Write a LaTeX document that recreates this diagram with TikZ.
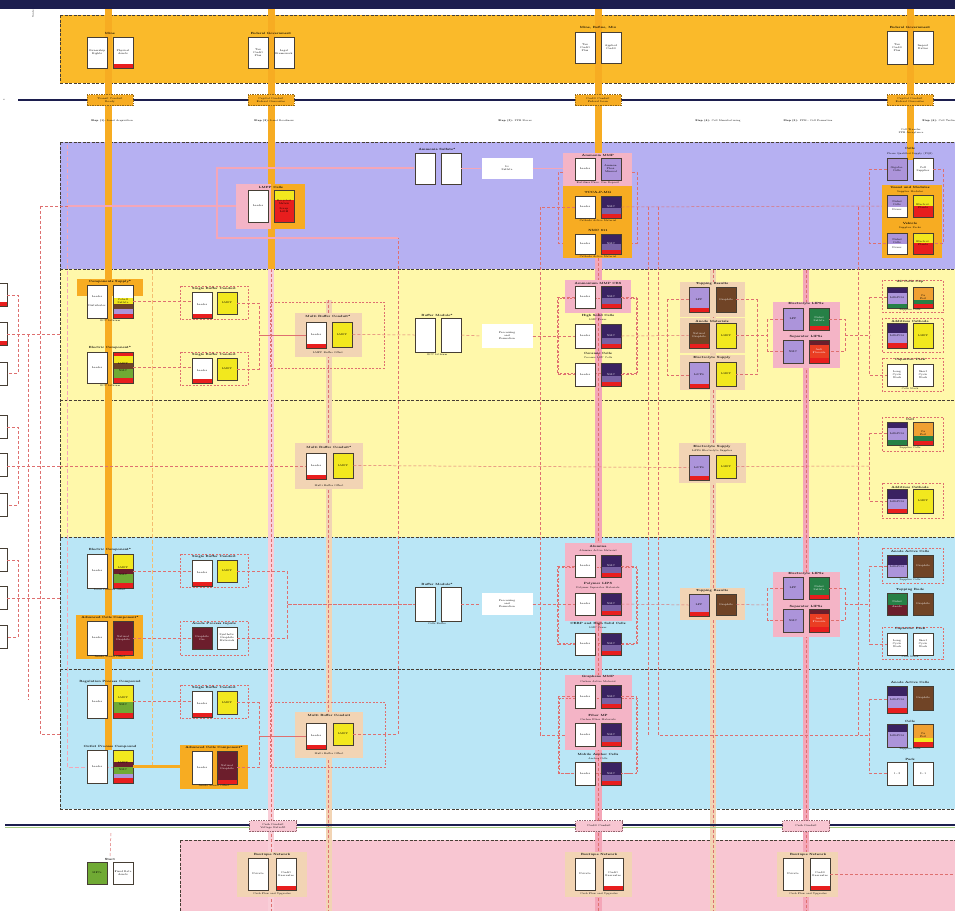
\documentclass[tikz,border=0pt]{standalone}
\usepackage{tikz}
\usetikzlibrary{positioning}

\definecolor{navyc}{RGB}{28,30,78}
\definecolor{bandor}{RGB}{250,186,42}
\definecolor{stripor}{RGB}{247,172,34}
\definecolor{bandpu}{RGB}{182,176,242}
\definecolor{bandye}{RGB}{255,248,170}
\definecolor{bandbl}{RGB}{186,230,246}
\definecolor{bandpk}{RGB}{248,198,210}
\definecolor{stripk}{RGB}{244,166,184}
\definecolor{tanbg}{RGB}{242,212,180}
\definecolor{pinkbg}{RGB}{244,180,198}
\definecolor{boxye}{RGB}{242,232,30}
\definecolor{boxbr}{RGB}{112,68,38}
\definecolor{boxma}{RGB}{108,30,44}
\definecolor{boxpu}{RGB}{172,148,218}
\definecolor{boxnv}{RGB}{58,34,98}
\definecolor{boxgr}{RGB}{38,128,70}
\definecolor{boxlm}{RGB}{112,170,52}
\definecolor{boxrd}{RGB}{232,30,30}
\definecolor{boxor}{RGB}{240,160,50}
\definecolor{linkc}{RGB}{222,112,112}
\definecolor{edgec}{RGB}{70,62,52}

% one box of a unit: name, left x, top y, height, options, text
\newcommand{\ubx}[6]{\node[ubox, minimum height=#4, #5] (#1) at (#2+10,#3+#4/2) {#6};}
% coloured layers under a box: left x, top y, list colour/from/to
\newcommand{\boxlayers}[3]{\foreach \lc/\la/\lb in {#3} {\fill[\lc] (#1,#2+\la) rectangle (#1+20,#2+\lb);}}

\begin{document}
\begin{tikzpicture}[x=1pt, y=-1pt,
  ubox/.style={draw=edgec, line width=0.8pt, fill=white, minimum width=20, inner sep=0.4pt,
    text width=18, align=center, font=\fontsize{2.6}{3}\selectfont},
  redfoot/.style={path picture={\fill[boxrd] ([yshift=4pt]path picture bounding box.south west)
    rectangle (path picture bounding box.south east);}},
  nbox/.style={fill=boxnv, text=white, path picture={
    \fill[boxpu!55!boxnv] ([yshift=10pt]path picture bounding box.south west) rectangle ([yshift=4pt]path picture bounding box.south east);
    \fill[boxrd] ([yshift=4pt]path picture bounding box.south west) rectangle (path picture bounding box.south east);}},
  ttl/.style={font=\fontsize{3}{3.4}\selectfont\bfseries, inner sep=0.2pt, align=center},
  sub/.style={font=\fontsize{2.5}{2.9}\selectfont, inner sep=0.2pt, align=center},
  bandedge/.style={draw=edgec, dash pattern=on 3pt off 1.5pt, line width=0.6pt},
  link/.style={draw=linkc, dash pattern=on 3pt off 2pt, line width=0.5pt},
  pkline/.style={draw=stripk, line width=1.4pt},
  pkdash/.style={draw=stripk, dash pattern=on 4pt off 2pt, line width=0.9pt},
  tandash/.style={draw=boxor!70, dash pattern=on 4pt off 2pt, line width=0.7pt},
  orlink/.style={draw=stripor, line width=3pt},
  grp/.style={draw=linkc, dash pattern=on 2pt off 1.5pt, line width=0.45pt},
  olab/.style={draw=stripor!60!black, dash pattern=on 1.5pt off 1pt, line width=0.4pt, fill=stripor,
    minimum width=46, minimum height=11, inner sep=0.2pt, align=center, font=\fontsize{2.6}{3}\selectfont},
  plab/.style={olab, draw=stripk!60!black, fill=bandpk, minimum width=47},
  lbox/.style={fill=white, minimum width=51, inner sep=0.3pt, align=center, font=\fontsize{2.6}{3}\selectfont}]
  \useasboundingbox (0,0) rectangle (955,911);

  % ---------- bands ----------
  \fill[white] (0,0) rectangle (955,911);
  \fill[bandor] (60,15) rectangle (955,83);
  \fill[bandpu] (60,142) rectangle (955,269);
  \fill[bandye] (60,269) rectangle (955,537);
  \fill[bandbl] (60,537) rectangle (955,809);
  \fill[bandpk] (180,840) rectangle (955,911);
  \foreach \y in {15,83,142,269,400,537,669,809} { \draw[bandedge] (60,\y) -- (955,\y); }
  \draw[bandedge] (60,15) -- (60,83);
  \draw[bandedge] (60,142) -- (60,809);
  \draw[bandedge] (180,840) -- (955,840);
  \draw[bandedge] (180,840) -- (180,911);

  % ---------- stripes ----------
  \fill[stripor] (104.5,0) rectangle (111.5,750);
  \fill[stripor] (267.5,0) rectangle (274.5,269);
  \fill[stripor] (594.5,0) rectangle (601.5,160);
  \fill[stripor] (906.5,0) rectangle (913.5,160);
  \fill[stripk!55] (268,269) rectangle (274,911);
  \fill[stripk] (594.5,258) rectangle (601.5,911);
  \fill[stripk] (803,270) rectangle (809,911);
  \fill[tanbg] (325.5,300) rectangle (331.5,911);
  \fill[tanbg] (710,270) rectangle (716,911);
  \foreach \x/\a in {271/269, 328.5/300, 713/270, 806/270, 598/258} { \draw[link] (\x,\a) -- (\x,911); }
  \fill[navyc] (0,0) rectangle (955,9);
  \draw[navyc, line width=1.6pt] (18,100) -- (955,100);
  \draw[navyc, line width=1.6pt] (5,825) -- (955,825);
  \draw[boxlm!60, line width=0.5pt] (5,827.5) -- (955,827.5);
  \node[sub] (sm1) at (4,100) {s};
  \node[sub, rotate=90] (sm2) at (33,14) {Scale};

  % ---------- left margin ----------
  \foreach \y in {283,322} { \fill[boxrd] (-14,\y+19) rectangle (7,\y+23); \draw[edgec, line width=0.8pt] (-14,\y) rectangle (7,\y+23); }
  \foreach \y in {362,415,453,493,548,586,625} { \draw[edgec, line width=0.8pt] (-14,\y) rectangle (7,\y+23); }
  \foreach \a/\b/\c in {295/334/373, 427/466/505, 560/598/637} {
    \draw[link] (7,\a) -| (18,\c) -- (7,\c);
    \draw[link] (7,\b) -- (60,\b);
  }
  \draw[link] (40,206) -- (40,734) -- (60,734);
  \draw[link] (28,334) -- (28,700);
  \draw[pkdash] (67,145) -- (67,767) -- (152,767);
  \draw[tandash] (152,270) -- (152,767);
  \draw[link] (648,207) -- (648,735);
  \draw[link] (658,207) -- (658,735) -- (870,735);
  \draw[link] (858,207) -- (858,735);

  % ---------- top band : supply ----------
  \node[ttl] (t1t) at (110,33) {Mine};
  \ubx{t1a}{87}{37}{31}{}{Ownership\\Rights}
  \ubx{t1b}{113}{37}{31}{redfoot}{Physical\\Assets}
  \node[ttl] (t2t) at (271,33) {Federal Government};
  \ubx{t2a}{248}{37}{31}{}{Tax\\Credit\\Plus}
  \ubx{t2b}{274}{37}{31}{}{Legal\\Framework}
  \node[ttl] (t3t) at (598,28) {Mine, Refine, Mix};
  \ubx{t3a}{575}{32}{31}{}{Tax\\Credit\\Plus}
  \ubx{t3b}{601}{32}{31}{}{Applied\\Credit}
  \node[ttl] (t4t) at (910,27) {Federal Government};
  \ubx{t4a}{887}{31}{33}{}{Tax\\Credit\\Plus}
  \ubx{t4b}{913}{31}{33}{}{Import\\Duties}

  \node[olab] (ol1) at (110,100) {Transit Conduit\\Ready};
  \node[olab] (ol2) at (271,100) {Capital Conduit\\Federal Guarantee};
  \node[olab] (ol3) at (598,100) {Credit Conduit\\Federal Loan};
  \node[olab] (ol4) at (910,100) {Capital Conduit\\Federal Guarantee};

  \node[sub] (st1) at (112,121) {\textbf{Step (1):} Land Acquisition};
  \node[sub] (st2) at (274,121) {\textbf{Step (2):} Land Readiness};
  \node[sub] (st3) at (515,121) {\textbf{Step (3):} PPE Stores};
  \node[sub] (st4) at (718,121) {\textbf{Step (4):} Cell Manufacturing};
  \node[sub] (st5) at (808,121) {\textbf{Step (5):} PPE - Cell Formation};
  \node[sub, anchor=west] (st6) at (922,121) {\textbf{Step (6):} Cell Testing};
  \node[sub] (st7) at (911,131) {Cell Transfer\\PPE Acceptance};

  % ---------- purple band ----------
  \draw[link] (40,206) -- (68,206);
  \draw[pkline] (68,206) -- (248,206);
  \draw[pkline] (414,168) -- (217,168) |- (398,238);
  \fill[pinkbg] (236,184) rectangle (271,229);
  \fill[stripor] (271,184) rectangle (305,229);
  \node[ttl] (pu1t) at (271,187) {LMFP Cells};
  \ubx{pu1a}{248}{190}{32}{}{Leader}
  \boxlayers{274}{190}{boxye/0/10, boxrd/10/32}
  \ubx{pu1b}{274}{190}{32}{fill=none}{Recycled\\Metals\\[2pt]Scrap\\LiOH}

  \node[ttl] (w1t) at (437,149) {Ammonia Sulfate*};
  \ubx{w1a}{415}{153}{31}{}{}
  \ubx{w1b}{441}{153}{31}{}{}
  \node[lbox, minimum height=21] (lab1) at (507,168.5) {Li\\Sulfate};
  \draw[pkline] (w1b.east) -- (lab1.west);
  \draw[pkline] (lab1.east) -- (575,168.5);

  \fill[stripor] (563,153) rectangle (632,258);
  \fill[pinkbg] (563,153) rectangle (632,186);
  \node[ttl] (c1t) at (598,155) {Ammonia MMP};
  \ubx{c1a}{575}{158}{22}{}{Leader}
  \ubx{c1b}{601}{158}{22}{fill=boxpu}{Ammon.\\Phos.\\Mineral}
  \node[sub] (c1s) at (598,183) {Fertilizer Phos. Ore Deposit};
  \node[ttl] (c2t) at (598,192) {TCCA-P-MG};
  \ubx{c2a}{575}{196}{22}{}{Leader}
  \ubx{c2b}{601}{196}{22}{nbox}{NMC}
  \node[sub] (c2s) at (598,221) {Cathode Active Material};
  \node[ttl] (c3t) at (598,230) {NMC 811};
  \ubx{c3a}{575}{234}{20}{}{Leader}
  \ubx{c3b}{601}{234}{20}{nbox}{NMC}
  \node[sub] (c3s) at (598,257) {Cathode Active Material};
  \draw[link] (c2a.west) -| (540,735) -- (575,735);
  \draw[link] (c2b.east) -- (887,206);
  \draw[link] (563,172) -- (558,172) |- (563,243);
  \draw[link] (632,172) -- (637,172) |- (632,243);

  \node[ttl] (r1t) at (910,148) {Cells};
  \node[sub] (r1s) at (910,154) {Phase Qualified Supply (PQS)};
  \ubx{r1a}{887}{158}{22}{fill=boxpu}{Gigafac.\\Cells}
  \ubx{r1b}{913}{158}{22}{}{Cell\\Supplier}
  \fill[stripor] (882,185) rectangle (942,258);
  \node[ttl] (r2t) at (910,187) {Vessel and Modules};
  \node[sub] (r2s) at (910,192) {Supplier Modules};
  \boxlayers{887}{195}{boxpu/0/12, white/12/22}
  \ubx{r2a}{887}{195}{22}{fill=none}{Nickel\\Cells\\[2pt]Power}
  \boxlayers{913}{195}{boxye/0/11, boxrd/11/22}
  \ubx{r2b}{913}{195}{22}{fill=none}{Electrol.\\Plants}
  \node[ttl] (r3t) at (910,223) {Vehicle};
  \node[sub] (r3s) at (910,228) {Supplier Packs};
  \boxlayers{887}{233}{boxpu/0/11, white/11/21}
  \ubx{r3a}{887}{233}{21}{fill=none}{Nickel\\Cells\\[2pt]Power}
  \boxlayers{913}{233}{boxye/0/10, boxrd/10/21}
  \ubx{r3b}{913}{233}{21}{fill=none}{Electrol.\\Plants}
  \draw[link] (r1a.west) -- ++(-17,0) |- (r3a.west);
  \draw[link] (r1b.east) -- ++(10,0) |- (r3b.east);

  % ---------- yellow band, upper ----------
  \fill[stripor] (77,279) rectangle (143,296);
  \node[ttl] (l1t) at (110,282) {Components Supply*};
  \ubx{l1a}{87}{285}{33}{}{Leader\\[6pt]Distributor}
  \boxlayers{113}{285}{white/0/13, boxye/13/19, boxbr/19/24, boxpu/24/29, boxrd/29/33}
  \ubx{l1b}{113}{285}{33}{fill=none}{Cobalt\\Sulfate}
  \node[sub] (l1s) at (110,321) {GCC Lithium};
  \node[ttl] (l2t) at (110,348) {Electric Component*};
  \ubx{l2a}{87}{352}{31}{}{Leader}
  \boxlayers{113}{352}{boxrd/0/4, boxye/4/11, boxbr/11/17, boxlm/17/26, boxrd/26/31}
  \ubx{l2b}{113}{352}{31}{fill=none}{LMFP\\[4pt]NMC}
  \node[sub] (l2s) at (110,386) {GCC Lithium};

  \draw[grp] (180,286) rectangle (248,319);
  \node[ttl] (s1t) at (214,289) {Single Buffer Conduit};
  \ubx{s1a}{192}{292}{26}{redfoot}{Leader}
  \ubx{s1b}{217}{292}{22}{fill=boxye}{LMFP}
  \draw[grp] (180,352) rectangle (248,385);
  \node[ttl] (s2t) at (214,355) {Single Buffer Conduit};
  \ubx{s2a}{192}{358}{25}{redfoot}{Leader}
  \ubx{s2b}{217}{358}{22}{fill=boxye}{LMFP}
  \draw[link] (l1b.east) -- (l1b.east -| s1a.west);
  \draw[link] (l2b.east) -- (l2b.east -| s2a.west);

  \draw[grp] (270,302) rectangle (384,368);
  \fill[tanbg] (295,313) rectangle (362,357);
  \node[ttl] (m1t) at (328,316) {Multi Buffer Conduit*};
  \ubx{m1a}{306}{322}{26}{redfoot}{Leader}
  \ubx{m1b}{332}{322}{25}{fill=boxye}{LMFP}
  \node[sub] (m1s) at (328,353) {LMFP Buffer Offset};
  \draw[link] (s1b.east) -- ++(22,0) |- (m1a.west);
  \draw[link] (s2b.east) -- ++(22,0) |- (m1a.west);

  \node[ttl] (w2t) at (437,315) {Buffer Module*};
  \ubx{w2a}{415}{318}{34}{}{}
  \ubx{w2b}{441}{318}{34}{}{}
  \node[sub] (w2s) at (437,355) {GCC Lithium};
  \node[lbox, minimum height=24] (lab2) at (507,336) {Processing\\and\\Formation};
  \draw[link] (m1b.east) -- (w2a.west);
  \draw[link] (w2b.east) -- (lab2.west);

  \fill[pinkbg] (565,280) rectangle (631,313);
  \draw[grp] (558,298) rectangle (637,373);
  \node[ttl] (c4t) at (598,283) {Ammonium MMP CBS};
  \ubx{c4a}{575}{286}{22}{}{Leader}
  \ubx{c4b}{601}{286}{22}{nbox}{NMC}
  \node[ttl] (c5t) at (598,316) {High Solid Cells};
  \node[sub] (c5s) at (598,320) {LMP Power};
  \ubx{c5a}{575}{324}{24}{}{Leader}
  \ubx{c5b}{601}{324}{24}{nbox}{NMC}
  \node[ttl] (c6t) at (598,353) {Ceramic Cells};
  \node[sub] (c6s) at (598,358) {Ceramic LFP Cells};
  \ubx{c6a}{575}{363}{23}{}{Leader}
  \ubx{c6b}{601}{363}{23}{nbox}{NMC}
  \draw[link] (lab2.east) -- (c5a.west);
  \draw[link] (c4a.west) -- ++(-17,0) |- (c6a.west);
  \draw[link] (c4b.east) -- ++(15,0) |- (c6b.east);

  \fill[tanbg] (680,282) rectangle (745,317);
  \node[ttl] (k1t) at (712,284) {Topping Results};
  \ubx{k1a}{689}{287}{25}{fill=boxpu, redfoot}{LFP}
  \ubx{k1b}{716}{287}{25}{fill=boxbr, text=white}{Graphite}
  \fill[tanbg] (680,318) rectangle (745,353);
  \node[ttl] (k2t) at (712,321) {Anode Materials};
  \ubx{k2a}{689}{323}{25}{fill=boxbr, text=white, redfoot}{Natural\\Graphite}
  \ubx{k2b}{716}{323}{25}{fill=boxye}{LMFP}
  \fill[tanbg] (680,355) rectangle (745,390);
  \node[ttl] (k3t) at (712,358) {Electrolyte Supply};
  \ubx{k3a}{689}{362}{26}{fill=boxpu, redfoot}{LiPF6}
  \ubx{k3b}{716}{362}{24}{fill=boxye}{LMFP}
  \draw[link] (c5b.east) -- (k2a.west);
  \draw[link] (k1a.west) -- ++(-21,0) |- (k3a.west);
  \draw[link] (k1b.east) -- ++(21,0) |- (k3b.east);

  \fill[pinkbg] (773,302) rectangle (840,368);
  \node[ttl] (p1t) at (806,304) {Electrolyte LIPSs};
  \ubx{p1a}{783}{308}{22}{fill=boxpu}{LFP}
  \ubx{p1b}{809}{308}{22}{fill=boxgr, text=white, redfoot}{Nickel\\Sulfate}
  \node[ttl] (p2t) at (806,337) {Separator LIPSs};
  \ubx{p2a}{783}{340}{23}{fill=boxpu}{NMC}
  \boxlayers{809}{340}{boxma/0/5, boxrd!75!boxor/5/18, boxrd/18/23}
  \ubx{p2b}{809}{340}{23}{fill=none, text=white}{Anti\\Fluoride}
  \coordinate (pj1) at (768,335.5);
  \coordinate (pj2) at (845,335.5);
  \draw[link] (k2b.east) -- (pj1);
  \draw[link] (p1a.west) -- ++(-15,0) |- (p2a.west);
  \draw[link] (p1b.east) -- ++(16,0) |- (p2b.east);
  \draw[link] (pj2) -- (870,335.5);

  \draw[grp] (882,280) rectangle (943,312);
  \node[ttl] (r4t) at (910,282) {All Cells Cap};
  \boxlayers{887}{287}{boxnv/0/6, boxpu/6/17, boxgr/17/21}
  \ubx{r4a}{887}{287}{21}{fill=none}{~\\LiFePO4}
  \boxlayers{913}{287}{boxor/0/13, boxgr/13/17, boxrd/17/21}
  \ubx{r4b}{913}{287}{21}{fill=none}{Cu\\Foil}
  \node[sub] (r4s) at (910,310) {Supplier Cells};
  \draw[grp] (882,318) rectangle (943,352);
  \node[ttl] (r5t) at (910,321) {Additives Cathode};
  \boxlayers{887}{323}{boxnv/0/10, boxpu/10/20, boxrd/20/25}
  \ubx{r5a}{887}{323}{25}{fill=none}{~\\LiFePO4}
  \ubx{r5b}{913}{323}{25}{fill=boxye}{LMFP}
  \draw[grp] (882,358) rectangle (943,391);
  \node[ttl] (r6t) at (910,360) {Capacitor Pack};
  \ubx{r6a}{887}{364}{22}{}{Long\\Cycle\\Stack}
  \ubx{r6b}{913}{364}{22}{}{Short\\Cycle\\Stack}
  \node[sub] (r6s) at (910,389) {Cells Stack};
  \draw[link] (r4a.west) -- ++(-17,0) |- (r6a.west);

  % ---------- yellow band, lower ----------
  \fill[tanbg] (295,443) rectangle (363,489);
  \node[ttl] (m2t) at (329,447) {Multi Buffer Conduit*};
  \ubx{m2a}{306}{453}{26}{redfoot}{Leader}
  \ubx{m2b}{333}{453}{25}{fill=boxye}{LMFP}
  \node[sub] (m2s) at (329,486) {Multi Buffer Offset};
  \draw[link] (60,466) -- (m2a.west);

  \fill[tanbg] (679,443) rectangle (746,483);
  \node[ttl] (k4t) at (712,447) {Electrolyte Supply};
  \node[sub] (k4s) at (712,451) {LiPF6 Electrolyte Supplier};
  \ubx{k4a}{689}{455}{25}{fill=boxpu, redfoot}{LiPF6}
  \ubx{k4b}{716}{455}{23}{fill=boxye}{LMFP}
  \draw[link] (m2b.east) -- (k4a.west);
  \draw[link] (k4b.east) -- (870,466);

  \draw[grp] (882,417) rectangle (943,451);
  \node[ttl] (r7t) at (910,419) {Cell};
  \boxlayers{887}{422}{boxnv/0/6, boxpu/6/18, boxgr/18/23}
  \ubx{r7a}{887}{422}{23}{fill=none}{~\\LiFePO4}
  \boxlayers{913}{422}{boxor/0/14, boxgr/14/19, boxrd/19/23}
  \ubx{r7b}{913}{422}{23}{fill=none}{Cu\\Foil}
  \node[sub] (r7s) at (910,448) {Supplier Cells};
  \draw[grp] (882,483) rectangle (943,518);
  \node[ttl] (r8t) at (910,487) {Additives Cathode};
  \boxlayers{887}{489}{boxnv/0/10, boxpu/10/20, boxrd/20/24}
  \ubx{r8a}{887}{489}{24}{fill=none}{~\\LiFePO4}
  \ubx{r8b}{913}{489}{24}{fill=boxye}{LMFP}
  \draw[link] (r7a.west) -- ++(-17,0) |- (r8a.west);

  % ---------- blue band, upper ----------
  \node[ttl] (l3t) at (110,550) {Electric Component*};
  \ubx{l3a}{87}{554}{34}{}{Leader}
  \boxlayers{113}{554}{boxye/0/15, boxma/15/20, boxlm/20/29, boxrd/29/34}
  \ubx{l3b}{113}{554}{34}{fill=none}{LMFP\\[4pt]NMC}
  \node[sub] (l3s) at (110,590) {Lead Cathode Offset};
  \draw[grp] (180,554) rectangle (248,587);
  \node[ttl] (s3t) at (214,557) {Single Buffer Conduit};
  \ubx{s3a}{192}{560}{26}{redfoot}{Leader}
  \ubx{s3b}{217}{560}{22}{fill=boxye}{LMFP}

  \fill[stripor] (76,615) rectangle (143,659);
  \node[ttl] (l4t) at (110,618) {Advanced Cells Component*};
  \ubx{l4a}{87}{621}{34}{}{Leader}
  \ubx{l4b}{113}{621}{34}{fill=boxma, text=white, redfoot}{Natural\\Graphite}
  \node[sub] (l4s) at (110,657) {Anode Source Offset};
  \draw[grp] (180,621) rectangle (248,655);
  \node[ttl] (s4t) at (214,624) {Anode Process Inputs};
  \ubx{s4a}{192}{627}{22}{fill=boxma, text=white}{Graphite\\Ore}
  \ubx{s4b}{217}{627}{22}{}{Synthetic\\Graphite\\Materials}
  \draw[link] (l3b.east) -- (l3b.east -| s3a.west);
  \draw[link] (l4b.east) -- (l4b.east -| s4a.west);

  \node[ttl] (w3t) at (437,584) {Buffer Module*};
  \ubx{w3a}{415}{587}{34}{}{}
  \ubx{w3b}{441}{587}{34}{}{}
  \node[sub] (w3s) at (437,624) {Cells Buffer};
  \node[lbox, minimum height=22] (lab3) at (507,604) {Processing\\and\\Formation};
  \draw[link] (s3b.east) -- ++(50,0) |- (w3a.west);
  \draw[link] (s4b.east) -- ++(50,0) |- (w3a.west);
  \draw[link] (w3b.east) -- (lab3.west);

  \fill[pinkbg] (565,543) rectangle (632,621);
  \draw[grp] (558,567) rectangle (637,643);
  \node[ttl] (c7t) at (598,546) {Alumina};
  \node[sub] (c7s) at (598,551) {Alumina Active Material};
  \ubx{c7a}{575}{555}{22}{}{Leader}
  \ubx{c7b}{601}{555}{22}{nbox}{NMC}
  \node[ttl] (c8t) at (598,584) {Polymer LIPS};
  \node[sub] (c8s) at (598,588) {Polymer Separator Materials};
  \ubx{c8a}{575}{593}{22}{}{Leader}
  \ubx{c8b}{601}{593}{22}{nbox}{NMC}
  \node[ttl] (c9t) at (598,624) {CERP and High Solid Cells};
  \node[sub] (c9s) at (598,628) {LMP Power};
  \ubx{c9a}{575}{633}{22}{}{Leader}
  \ubx{c9b}{601}{633}{22}{nbox}{NMC}
  \draw[link] (lab3.east) -- (c8a.west);
  \draw[link] (c7a.west) -- ++(-17,0) |- (c9a.west);
  \draw[link] (c7b.east) -- ++(15,0) |- (c9b.east);

  \fill[tanbg] (680,588) rectangle (745,620);
  \node[ttl] (k5t) at (712,591) {Topping Results};
  \ubx{k5a}{689}{594}{22}{fill=boxpu, redfoot}{LFP}
  \ubx{k5b}{716}{594}{21}{fill=boxbr, text=white}{Graphite}
  \draw[link] (c8b.east) -- (k5a.west);

  \fill[pinkbg] (773,572) rectangle (840,637);
  \node[ttl] (p3t) at (806,574) {Electrolyte LIPSs};
  \ubx{p3a}{783}{577}{22}{fill=boxpu}{LFP}
  \ubx{p3b}{809}{577}{22}{fill=boxgr, text=white, redfoot}{Nickel\\Sulfate}
  \node[ttl] (p4t) at (806,607) {Separator LIPSs};
  \ubx{p4a}{783}{609}{23}{fill=boxpu}{NMC}
  \boxlayers{809}{609}{boxma/0/5, boxrd!75!boxor/5/18, boxrd/18/23}
  \ubx{p4b}{809}{609}{23}{fill=none, text=white}{Anti\\Fluoride}
  \coordinate (pj3) at (768,605);
  \coordinate (pj4) at (845,604);
  \draw[link] (k5b.east) -- (pj3);
  \draw[link] (p3a.west) -- ++(-15,0) |- (p4a.west);
  \draw[link] (p3b.east) -- ++(16,0) |- (p4b.east);
  \draw[link] (pj4) -- (870,604);

  \draw[grp] (882,548) rectangle (943,583);
  \node[ttl] (r9t) at (910,551) {Anode Active Cells};
  \boxlayers{887}{555}{boxnv/0/10, boxpu/10/22}
  \ubx{r9a}{887}{555}{22}{fill=none}{~\\LiFePO4}
  \ubx{r9b}{913}{555}{22}{fill=boxbr, text=white}{Graphite}
  \node[sub] (r9s) at (910,580) {Supplier Cells};
  \node[ttl] (r10t) at (910,590) {Topping Rods};
  \boxlayers{887}{593}{boxgr/0/12, boxma/12/22}
  \ubx{r10a}{887}{593}{22}{fill=none, text=white}{Nickel\\[2pt]Anode}
  \ubx{r10b}{913}{593}{22}{fill=boxbr, text=white}{Graphite}
  \draw[grp] (882,627) rectangle (943,659);
  \node[ttl] (r11t) at (910,629) {Capacitor Pack};
  \ubx{r11a}{887}{633}{22}{}{Long\\Cycle\\Stack}
  \ubx{r11b}{913}{633}{22}{}{Short\\Cycle\\Stack}
  \node[sub] (r11s) at (910,657) {Cells Stack};
  \draw[link] (r9a.west) -- ++(-17,0) |- (r11a.west);

  % ---------- blue band, lower ----------
  \node[ttl] (l5t) at (110,682) {Regulation Process Compound};
  \ubx{l5a}{87}{685}{33}{}{Leader}
  \boxlayers{113}{685}{boxye/0/17, boxlm/17/28, boxrd/28/33}
  \ubx{l5b}{113}{685}{33}{fill=none}{LMFP\\[4pt]NMC}
  \draw[grp] (180,685) rectangle (248,718);
  \node[ttl] (s5t) at (214,688) {Single Buffer Conduit};
  \ubx{s5a}{192}{691}{26}{redfoot}{Leader}
  \ubx{s5b}{217}{691}{23}{fill=boxye}{LMFP}
  \node[ttl] (l6t) at (110,747) {Outlet Process Compound};
  \ubx{l6a}{87}{750}{33}{}{Leader}
  \boxlayers{113}{750}{boxye/0/12, boxma/12/17, boxlm/17/24, boxpu/24/28, boxrd/28/33}
  \ubx{l6b}{113}{750}{33}{fill=none}{LMFP\\[4pt]NMC}
  \fill[stripor] (180,745) rectangle (248,789);
  \node[ttl] (s6t) at (214,748) {Advanced Cells Component*};
  \ubx{s6a}{192}{751}{33}{}{Leader}
  \ubx{s6b}{217}{751}{33}{fill=boxma, text=white, redfoot}{Natural\\Graphite}
  \node[sub] (s6s) at (214,786) {Anode Source Offset};
  \draw[link] (l5b.east) -- (l5b.east -| s5a.west);
  \draw[orlink] (l6b.east) -- (l6b.east -| s6a.west);

  \draw[grp] (270,702) rectangle (385,767);
  \fill[tanbg] (295,712) rectangle (363,758);
  \node[ttl] (m3t) at (329,715) {Multi Buffer Conduit};
  \ubx{m3a}{306}{723}{26}{redfoot}{Leader}
  \ubx{m3b}{333}{723}{22}{fill=boxye}{LMFP}
  \node[sub] (m3s) at (329,754) {Multi Buffer Offset};
  \draw[link] (s5b.east) -- ++(22,0) |- (m3a.west);
  \draw[link] (s6b.east) -- ++(22,0) |- (m3a.west);
  \draw[link] (m3b.east) -| (398,238);

  \fill[pinkbg] (565,675) rectangle (632,750);
  \draw[grp] (559,698) rectangle (637,773);
  \node[ttl] (c10t) at (598,677) {Graphene MMP};
  \node[sub] (c10s) at (598,682) {Carbon Active Material};
  \ubx{c10a}{575}{685}{23}{}{Leader}
  \ubx{c10b}{601}{685}{23}{nbox}{NMC}
  \node[ttl] (c11t) at (598,715) {Fiber MP};
  \node[sub] (c11s) at (598,720) {Carbon Fiber Materials};
  \ubx{c11a}{575}{723}{23}{}{Leader}
  \ubx{c11b}{601}{723}{23}{nbox}{NMC}
  \node[ttl] (c12t) at (598,754) {Mobile Anchor Cells};
  \node[sub] (c12s) at (598,759) {Anchor Cells};
  \ubx{c12a}{575}{762}{23}{}{Leader}
  \ubx{c12b}{601}{762}{23}{nbox}{NMC}
  \draw[link] (c10a.west) -- ++(-16,0) |- (c12a.west);
  \draw[link] (c10b.east) -- ++(15,0) |- (c12b.east);

  \node[ttl] (r12t) at (910,682) {Anode Active Cells};
  \boxlayers{887}{686}{boxnv/0/10, boxpu/10/22, boxrd/22/27}
  \ubx{r12a}{887}{686}{27}{fill=none}{~\\LiFePO4}
  \ubx{r12b}{913}{686}{24}{fill=boxbr, text=white}{Graphite}
  \node[ttl] (r13t) at (910,721) {Cells};
  \boxlayers{887}{724}{boxnv/0/8, boxpu/8/23}
  \ubx{r13a}{887}{724}{23}{fill=none}{~\\LiFePO4}
  \boxlayers{913}{724}{boxor/0/14, boxye/14/18, boxrd/18/23}
  \ubx{r13b}{913}{724}{23}{fill=none}{Cu\\Foil}
  \node[sub] (r13s) at (910,749) {Supplier Cells};
  \node[ttl] (r14t) at (910,759) {Pack};
  \ubx{r14a}{887}{762}{23}{}{1 - 3}
  \ubx{r14b}{913}{762}{23}{}{3 - 1}
  \draw[link] (r12a.west) -- ++(-17,0) |- (r14a.west);

  % ---------- bottom band ----------
  \node[plab] (pl1) at (273,826) {Cash Conduit\\Voltage Retrofit};
  \node[plab] (pl2) at (599,826) {Credit Conduit};
  \node[plab] (pl3) at (806,826) {Cash Conduit};

  \fill[tanbg] (237,852) rectangle (307,897);
  \node[ttl] (b1t) at (272,855) {Boutique Network};
  \ubx{b1a}{248}{858}{32}{}{Private}
  \ubx{b1b}{276}{858}{32}{redfoot}{Credit\\Guarantee}
  \node[sub] (b1s) at (272,894) {Cash Flow and Upgrades};
  \fill[tanbg] (565,852) rectangle (632,897);
  \node[ttl] (b2t) at (599,855) {Boutique Network};
  \ubx{b2a}{575}{858}{32}{}{Private}
  \ubx{b2b}{603}{858}{32}{redfoot}{Credit\\Guarantee}
  \node[sub] (b2s) at (599,894) {Cash Flow and Upgrades};
  \fill[tanbg] (777,852) rectangle (838,897);
  \node[ttl] (b3t) at (808,855) {Boutique Network};
  \ubx{b3a}{783}{858}{32}{}{Private}
  \ubx{b3b}{810}{858}{32}{redfoot}{Credit\\Guarantee}
  \node[sub] (b3s) at (808,894) {Cash Flow and Upgrades};
  \coordinate (bend) at (955,874);
  \draw[link] (b3b.east) -- (bend);

  \coordinate (sttop) at (111,833);
  \node[ttl] (stt) at (110,859) {Start};
  \ubx{sta}{87}{862}{22}{fill=boxlm}{MFCs}
  \ubx{stb}{113}{862}{22}{}{Fixed Rate\\Assets}
  \draw[link] (sttop) -- (stt.north);
\end{tikzpicture}
\end{document}
